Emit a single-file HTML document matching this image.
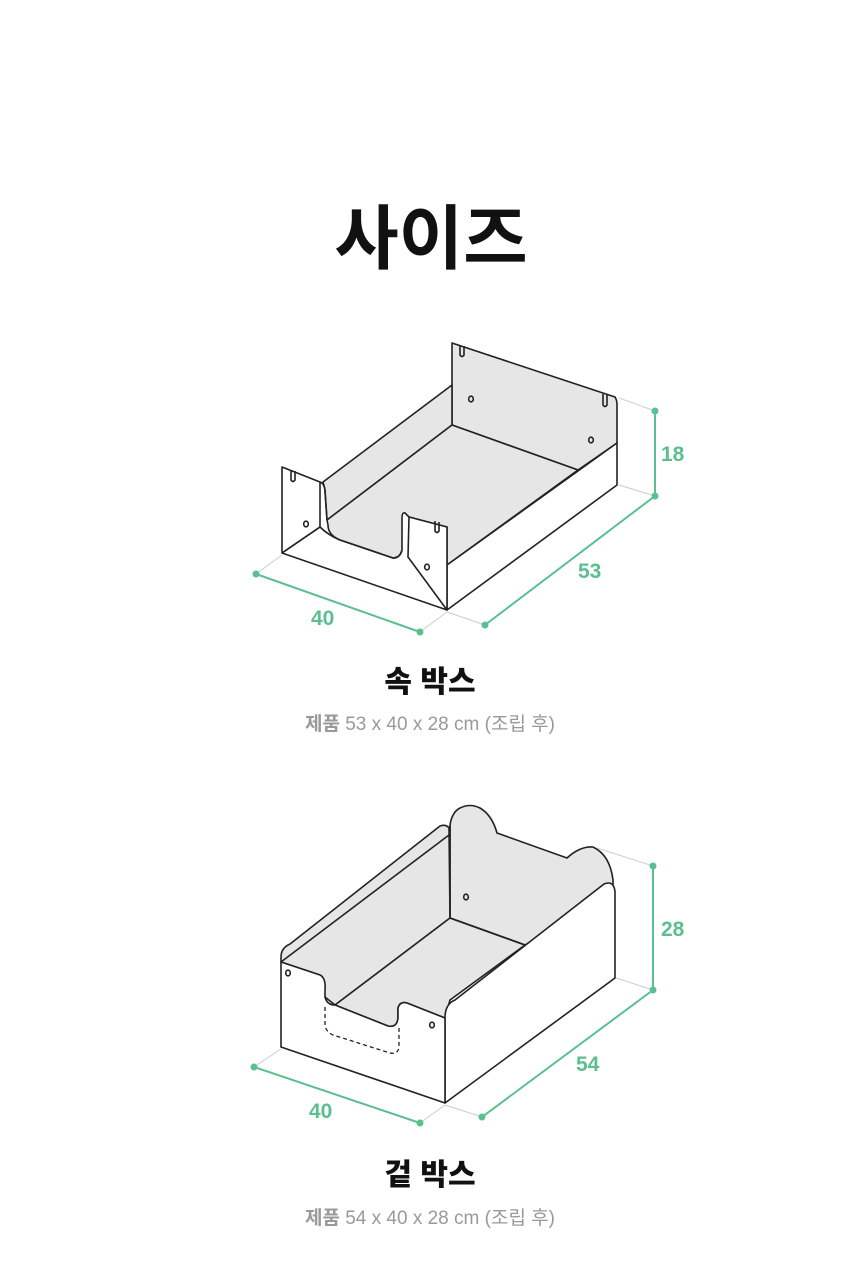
<!DOCTYPE html>
<html><head><meta charset="utf-8"><style>
html,body{margin:0;padding:0;background:#fff;}
svg{display:block;}
text{font-family:"Liberation Sans","Noto Sans CJK KR",sans-serif;}
</style></head><body>
<svg width="860" height="1267" viewBox="0 0 860 1267" xmlns="http://www.w3.org/2000/svg">
<text x="431" y="263" text-anchor="middle" font-size="70" font-weight="700" fill="#111" font-family="'Noto Sans CJK KR',sans-serif">사이즈</text>

<!-- TOP BOX -->
<g stroke="#222" stroke-width="1.6" stroke-linejoin="round" fill="none">
  <path d="M452,343 L615,397 Q617,400 617,405 L617,443 L578,470 L452,425 Z" fill="#e6e6e6"/>
  <path d="M323,482 L452,385 L452,425 L327,520 L325,490 Z" fill="#e6e6e6"/>
  <path d="M327,520 L452,425 L578,470 L447,565 L447,527 L409,517 L405,513 Q402,512 402,518 L402,550 Q400,558 393,558 L340,540 Q328,535 328,525 Z" fill="#e6e6e6"/>
  <path d="M447,565 L617,443 L617,485 L447,610 Z" fill="#fff"/>
  <path d="M282,467 L320,482 L320,527 L282,553 Z" fill="#fff"/>
  <path d="M320,482 Q325,484 325,492 L327,520"/>
  <path d="M282,553 L320,527 Q328,535 340,540 L393,558 Q400,558 402,550" fill="none"/>
  <path d="M282,553 L447,610"/>
  <path d="M409,517 L447,527 L447,610 L408,557 Z" fill="#fff"/>
  <path d="M460,345 L460,355 Q462,358 464,355 L464,346"/>
  <path d="M603,394 L603,405 Q605,408 607,405 L607,395"/>
  <path d="M291,470 L291,480 Q293,483 295,480 L295,471"/>
  <path d="M435,521 L435,531 Q437,534 439,531 L439,522"/>
  <ellipse cx="471" cy="399" rx="2.3" ry="2.8"/>
  <ellipse cx="591" cy="440" rx="2.3" ry="2.8"/>
  <ellipse cx="306" cy="524" rx="2.3" ry="2.8"/>
  <ellipse cx="427" cy="567" rx="2.3" ry="2.8"/>
</g>
<g stroke="#ccc" stroke-width="1">
  <line x1="619" y1="398" x2="655" y2="411"/>
  <line x1="619" y1="485" x2="655" y2="496"/>
  <line x1="447" y1="612" x2="485" y2="625"/>
  <line x1="282" y1="555" x2="256" y2="574"/>
  <line x1="447" y1="612" x2="420" y2="632"/>
</g>
<g stroke="#5cbf8f" stroke-width="2" fill="#5cbf8f">
  <line x1="655" y1="411" x2="655" y2="496"/>
  <line x1="655" y1="496" x2="485" y2="625"/>
  <line x1="256" y1="574" x2="420" y2="632"/>
  <circle cx="655" cy="411" r="2.5"/><circle cx="655" cy="496" r="2.5"/>
  <circle cx="485" cy="625" r="2.5"/><circle cx="256" cy="574" r="2.5"/><circle cx="420" cy="632" r="2.5"/>
</g>
<g fill="#5cbf8f" font-size="21" font-weight="bold">
  <text x="661" y="461">18</text>
  <text x="578" y="578">53</text>
  <text x="311" y="625">40</text>
</g>
<text x="430" y="692" text-anchor="middle" font-size="30" font-weight="900" fill="#111" font-family="'Noto Sans CJK KR',sans-serif">속 박스</text>
<text x="430" y="730" text-anchor="middle" font-size="19" fill="#999" font-family="'Noto Sans CJK KR',sans-serif"><tspan font-weight="bold">제품</tspan> 53 x 40 x 28  cm (조립 후)</text>

<!-- BOTTOM BOX -->
<g stroke="#222" stroke-width="1.6" stroke-linejoin="round" fill="none">
  <!-- back panel with ears -->
  <path d="M450,825 Q452,812 460,808 Q470,803 480,808 Q492,815 497,833 L567,858 Q580,846 593,847 Q610,855 613,880 L613,892 L525,945 L450,918 Z" fill="#e6e6e6"/>
  <!-- left wall -->
  <path d="M281,957 Q281,948 290,944 L440,826 Q446,824 449,828 L450,918 L335,1005 L325,997 L320,975 L281,962 Z" fill="#e6e6e6"/>
  <line x1="281" y1="962" x2="449" y2="835"/>
  <!-- floor -->
  <path d="M335,1005 L450,918 L525,945 L450,1000 L445,1018 L407,1003 Q400,1001 398,1008 L398,1018 Q397,1028 388,1026 Z" fill="#e6e6e6"/>
  <line x1="450" y1="825" x2="450" y2="918"/>
  <line x1="450" y1="918" x2="525" y2="945"/>
  <!-- right wall -->
  <path d="M445,1018 Q445,1004 455,1000 L604,884 Q614,880 615,892 L615,978 L445,1103 Z" fill="#fff"/>
  <!-- front wall -->
  <path d="M281,962 L320,975 Q326,978 325,990 L325,997 Q327,1005 335,1005 L388,1026 Q397,1028 398,1018 L398,1008 Q400,1001 407,1003 L445,1018 L445,1103 L281,1047 Z" fill="#fff"/>
  <path d="M325,1007 L325,1025 Q326,1032 333,1035 L390,1053 Q398,1055 399,1047 L399,1028" stroke-dasharray="4,3" stroke-width="1.3"/>
  <ellipse cx="288" cy="973" rx="2.3" ry="2.8"/>
  <ellipse cx="432" cy="1025" rx="2.3" ry="2.8"/>
  <ellipse cx="466" cy="897" rx="2.3" ry="2.8"/>
</g>
<g stroke="#ccc" stroke-width="1">
  <line x1="597" y1="848" x2="653" y2="866"/>
  <line x1="616" y1="978" x2="653" y2="990"/>
  <line x1="445" y1="1105" x2="482" y2="1117"/>
  <line x1="281" y1="1049" x2="254" y2="1067"/>
  <line x1="445" y1="1105" x2="420" y2="1123"/>
</g>
<g stroke="#5cbf8f" stroke-width="2" fill="#5cbf8f">
  <line x1="653" y1="866" x2="653" y2="990"/>
  <line x1="653" y1="990" x2="482" y2="1117"/>
  <line x1="254" y1="1067" x2="420" y2="1123"/>
  <circle cx="653" cy="866" r="2.5"/><circle cx="653" cy="990" r="2.5"/>
  <circle cx="482" cy="1117" r="2.5"/><circle cx="254" cy="1067" r="2.5"/><circle cx="420" cy="1123" r="2.5"/>
</g>
<g fill="#5cbf8f" font-size="21" font-weight="bold">
  <text x="661" y="936">28</text>
  <text x="576" y="1071">54</text>
  <text x="309" y="1118">40</text>
</g>
<text x="430" y="1185" text-anchor="middle" font-size="30" font-weight="900" fill="#111" font-family="'Noto Sans CJK KR',sans-serif">겉 박스</text>
<text x="430" y="1224" text-anchor="middle" font-size="19" fill="#999" font-family="'Noto Sans CJK KR',sans-serif"><tspan font-weight="bold">제품</tspan> 54 x 40 x 28  cm (조립 후)</text>
</svg>
</body></html>
